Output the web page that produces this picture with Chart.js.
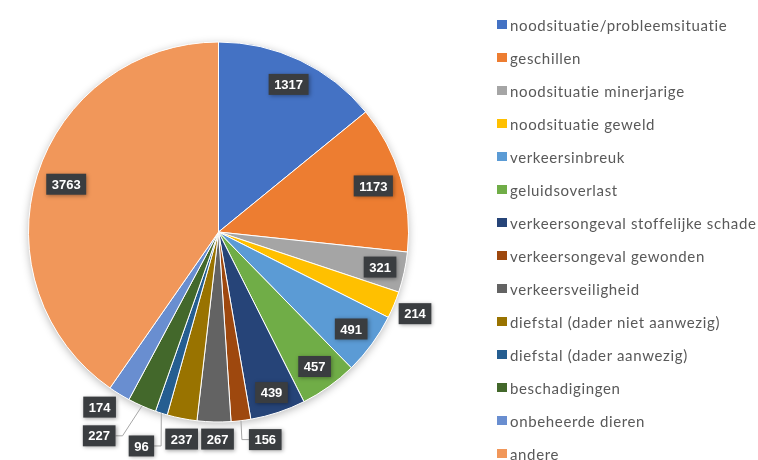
<!DOCTYPE html>
<html>
<head>
<meta charset="utf-8">
<script src="https://cdn.jsdelivr.net/npm/chart.js@4/dist/chart.umd.min.js"></script>
<style>
    html, body { margin: 0; padding: 0; background: #fff; overflow: hidden; }
    #wrap { position: relative; width: 758px; height: 460px; }
    #pie { position: absolute; left: 0; top: 0; }
    #legend { position: absolute; left: 497px; top: 8px; font-family: Lato, sans-serif; font-size: 15px; letter-spacing: 0.65px; color: #595959; }
    .row { height: 33px; display: flex; align-items: center; white-space: nowrap; }
    .sw { width: 10px; height: 9px; margin-right: 3px; flex: none; }
</style>
</head>
<body>
<div id="wrap">
    <canvas id="pie" width="758" height="460"></canvas>
    <div id="legend"></div>
</div>
<script>
const categories = [
    'noodsituatie/probleemsituatie',
    'geschillen',
    'noodsituatie minerjarige',
    'noodsituatie geweld',
    'verkeersinbreuk',
    'geluidsoverlast',
    'verkeersongeval stoffelijke schade',
    'verkeersongeval gewonden',
    'verkeersveiligheid',
    'diefstal (dader niet aanwezig)',
    'diefstal (dader aanwezig)',
    'beschadigingen',
    'onbeheerde dieren',
    'andere'
];
const counts = [1317, 1173, 321, 214, 491, 457, 439, 156, 267, 237, 96, 227, 174, 3763];
const sliceColors = [
    '#4472C4', '#ED7D31', '#A5A5A5', '#FFC000', '#5B9BD5', '#70AD47', '#264478',
    '#9E480E', '#636363', '#997300', '#255E91', '#43682B', '#698ED0', '#F1975A'
];

// where each value box sits: distance as part of the radius, nudge in degrees, leader line or not
const labelSpots = [
    { r: 0.86 }, { r: 0.85 }, { r: 0.87 }, { r: 1.12 },
    { r: 0.865 }, { r: 0.87 }, { r: 0.89 },
    { r: 1.12, da: -5.9, leader: true },
    { r: 1.09, da: -1.1 },
    { r: 1.107, da: -1.0 },
    { r: 1.197, da: 2.3, leader: true },
    { r: 1.243, da: 6.6, leader: true },
    { r: 1.114, da: 2.7 },
    { r: 0.84 }
];

// soft shadow under the whole pie
const pieShadow = {
    id: 'pieShadow',
    beforeDatasetsDraw(chart) {
        const arc = chart.getDatasetMeta(0).data[0];
        if (!arc) return;
        const ctx = chart.ctx;
        ctx.save();
        ctx.shadowColor = 'rgba(0,0,0,0.28)';
        ctx.shadowBlur = 9;
        ctx.shadowOffsetY = 2;
        ctx.fillStyle = '#fff';
        ctx.beginPath();
        ctx.arc(arc.x, arc.y, arc.outerRadius, 0, Math.PI * 2);
        ctx.fill();
        ctx.restore();
    }
};

const valueBoxes = {
    id: 'valueBoxes',
    afterDatasetsDraw(chart) {
        const ctx = chart.ctx;
        const meta = chart.getDatasetMeta(0);
        ctx.save();
        ctx.font = 'bold 13px "Liberation Sans", Arial, sans-serif';
        ctx.textAlign = 'center';
        ctx.textBaseline = 'middle';
        meta.data.forEach((arc, i) => {
            const spot = labelSpots[i];
            const mid = (arc.startAngle + arc.endAngle) / 2;
            const a = mid + (spot.da || 0) * Math.PI / 180;
            const R = arc.outerRadius;
            const cx = arc.x + Math.cos(a) * R * spot.r;
            const cy = arc.y + Math.sin(a) * R * spot.r;
            const text = String(counts[i]);
            const w = ctx.measureText(text).width + 11;
            const h = 21;
            const left = cx - w / 2, right = cx + w / 2;

            if (spot.leader) {
                const ex = arc.x + Math.cos(mid) * R;
                const ey = arc.y + Math.sin(mid) * R;
                let bx, sx;
                if (ex > cx) { bx = Math.min(ex, right + 7); sx = right; }
                else { bx = Math.max(ex, left - 7); sx = left; }
                ctx.strokeStyle = '#a6a6a6';
                ctx.lineWidth = 1;
                ctx.beginPath();
                ctx.moveTo(ex, ey);
                ctx.lineTo(bx, cy);
                ctx.lineTo(sx, cy);
                ctx.stroke();
            }

            ctx.shadowColor = 'rgba(0,0,0,0.35)';
            ctx.shadowBlur = 4;
            ctx.shadowOffsetX = 1;
            ctx.shadowOffsetY = 1;
            ctx.fillStyle = '#3a3d40';
            ctx.fillRect(left, cy - h / 2, w, h);
            ctx.shadowColor = 'transparent';
            ctx.fillStyle = '#ffffff';
            ctx.fillText(text, cx, cy + 1);
        });
        ctx.restore();
    }
};

const ctx = document.getElementById('pie').getContext('2d');
const pieChart = new Chart(ctx, {
    type: 'pie',
    data: {
        labels: categories,
        datasets: [{
            data: counts,
            backgroundColor: sliceColors,
            borderColor: '#ffffff',
            borderWidth: 1
        }]
    },
    options: {
        responsive: false,
        animation: false,
        layout: { padding: { left: 28, right: 349, top: 41.5, bottom: 37.5 } },
        plugins: {
            legend: { display: false },
            tooltip: { enabled: false }
        }
    },
    plugins: [pieShadow, valueBoxes]
});

// legend next to the pie
const legend = document.getElementById('legend');
categories.forEach((name, i) => {
    const row = document.createElement('div');
    row.className = 'row';
    const sw = document.createElement('span');
    sw.className = 'sw';
    sw.style.background = sliceColors[i];
    const txt = document.createElement('span');
    txt.textContent = name;
    row.appendChild(sw);
    row.appendChild(txt);
    legend.appendChild(row);
});
</script>
</body>
</html>
